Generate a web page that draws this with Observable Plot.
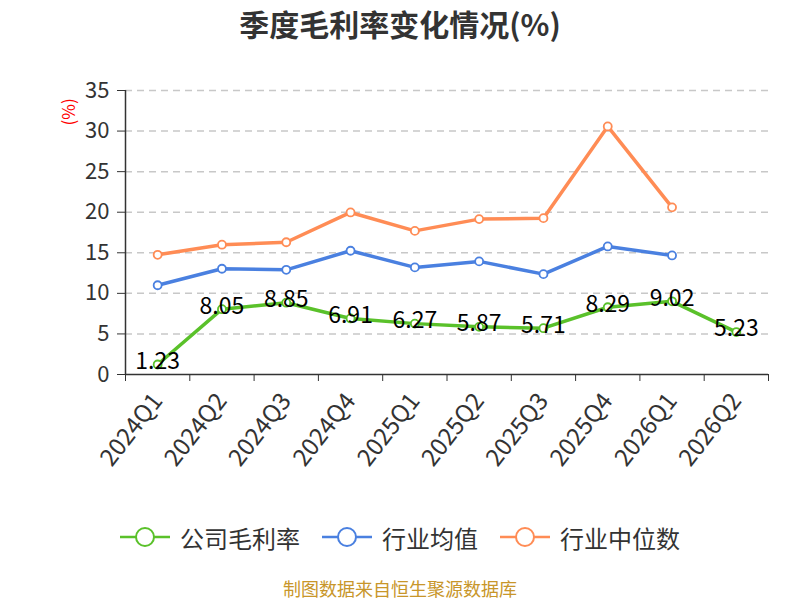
<!DOCTYPE html>
<html>
<head>
<meta charset="utf-8">
<script src="https://cdn.jsdelivr.net/npm/d3@7"></script>
<script src="https://cdn.jsdelivr.net/npm/@observablehq/plot@0.6"></script>
<style>
  body { margin: 0; background: #fff; font-family: "Noto Sans CJK SC", "Noto Sans", sans-serif; width: 800px; }
  #title { height: 50px; line-height: 46px; text-align: center; font-size: 30px; font-weight: bold; color: #333; }
  #legend { height: 54px; display: flex; justify-content: center; align-items: center; gap: 22px; font-size: 24px; color: #333; }
  .item { display: flex; align-items: center; gap: 10px; }
  #caption { margin-top: 12px; height: 24px; line-height: 24px; text-align: center; font-size: 18px; color: #c8962a; }
</style>
</head>
<body>
<div id="title">季度毛利率变化情况(%)</div>
<div id="chart"></div>
<div id="legend"></div>
<div id="caption">制图数据来自恒生聚源数据库</div>
<script>
const quarters = ["2024Q1","2024Q2","2024Q3","2024Q4","2025Q1","2025Q2","2025Q3","2025Q4","2026Q1","2026Q2"];
const company = [1.23, 8.05, 8.85, 6.91, 6.27, 5.87, 5.71, 8.29, 9.02, 5.23];
const industryAvg = [11.0, 13.03, 12.9, 15.25, 13.2, 13.94, 12.37, 15.78, 14.67];
const industryMedian = [14.75, 16.0, 16.3, 19.97, 17.7, 19.15, 19.27, 30.57, 20.6];
const yTicks = [0, 5, 10, 15, 20, 25, 30, 35];

const seriesNames = ["公司毛利率", "行业均值", "行业中位数"];
const colors = ["#5ac12a", "#4a80e0", "#ff8c55"];

const rows = [];
[company, industryAvg, industryMedian].forEach((arr, s) => {
  arr.forEach((v, i) => rows.push({ series: seriesNames[s], i, q: quarters[i], v }));
});
const companyRows = rows.filter(d => d.series === seriesNames[0]);

const edges = d3.range(quarters.length + 1).map(k => k - 0.5);
const centers = d3.range(quarters.length);

const chart = Plot.plot({
  width: 800,
  height: 460,
  marginTop: 40,
  marginBottom: 136,
  marginLeft: 125,
  marginRight: 32,
  style: { fontFamily: "'Noto Sans CJK SC', 'Noto Sans', sans-serif", background: "#fff" },
  x: { type: "linear", domain: [-0.5, quarters.length - 0.5] },
  y: { domain: [0, 35] },
  color: { domain: seriesNames, range: colors },
  marks: [
    Plot.ruleY(yTicks.filter(t => t > 0), { stroke: "#c8c8c8", strokeWidth: 1.5, strokeDasharray: "7,5" }),
    Plot.axisY({ ticks: yTicks, tickSize: 8, tickPadding: 8, fontSize: 22, fill: "#333", stroke: "#333", label: null }),
    Plot.axisX({ ticks: edges, tickSize: 7, tickFormat: () => "", stroke: "#333", label: null }),
    Plot.axisX({ ticks: centers, tickSize: 0, tickPadding: 22, tickRotate: -52, fontSize: 24, fill: "#333",
                 tickFormat: i => quarters[i], label: null }),
    Plot.ruleX([-0.5], { stroke: "#333", strokeWidth: 1.5 }),
    Plot.ruleY([0], { stroke: "#333", strokeWidth: 1.5 }),
    Plot.line(rows, { x: "i", y: "v", z: "series", stroke: "series", strokeWidth: 3.5 }),
    Plot.dot(rows, { x: "i", y: "v", stroke: "series", fill: "white", r: 4, strokeWidth: 1.8 }),
    Plot.text(companyRows, { x: "i", y: "v", text: d => d.v.toFixed(2), fill: "#000", fontSize: 23, dy: -3 }),
    Plot.text(["(%)"], { frameAnchor: "top-left", dx: -63, dy: 35, rotate: -90, fill: "red", fontSize: 17 })
  ]
});
document.getElementById("chart").appendChild(chart);

const legend = document.getElementById("legend");
seriesNames.forEach((name, s) => {
  const item = document.createElement("div");
  item.className = "item";
  item.innerHTML = `<svg width="50" height="22"><line x1="0" y1="11" x2="50" y2="11" stroke="${colors[s]}" stroke-width="2.5"/><circle cx="25" cy="11" r="9" fill="white" stroke="${colors[s]}" stroke-width="2"/></svg><span>${name}</span>`;
  legend.appendChild(item);
});
</script>
</body>
</html>
